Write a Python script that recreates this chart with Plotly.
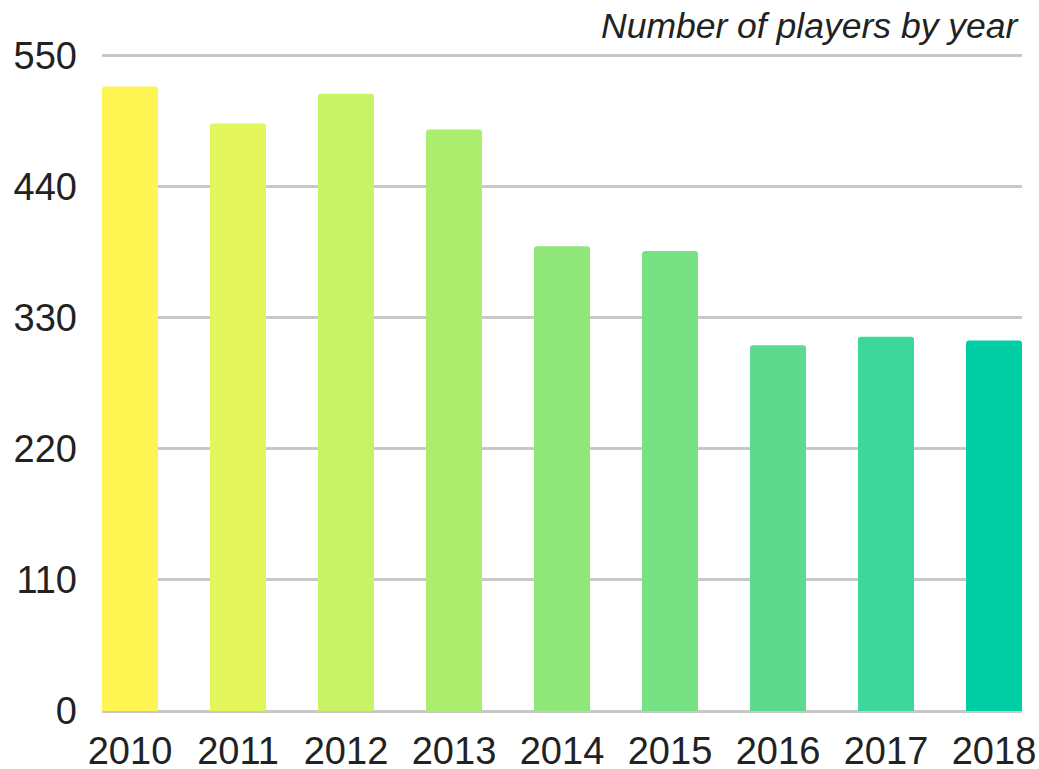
import plotly.graph_objects as go

years = ["2010", "2011", "2012", "2013", "2014", "2015", "2016", "2017", "2018"]
players = [524, 493, 518, 488, 390, 386, 307, 314, 311]
colors = ["#FEF552", "#E2F55B", "#C9F266", "#ADED6E", "#8FE77A", "#76E284",
          "#5DDA8E", "#3DD69B", "#00CFA5"]
y_ticks = [0, 110, 220, 330, 440, 550]
title_text = "Number of players by year"

fig = go.Figure(go.Bar(x=years, y=players, marker=dict(color=colors, line=dict(width=0))))

fig.update_layout(
    width=1039, height=769,
    margin=dict(l=102, r=17, t=52.4, b=58, autoexpand=False),
    paper_bgcolor="white", plot_bgcolor="white",
    bargap=0.4815,
    barcornerradius=3,
    showlegend=False,
    font=dict(family="Liberation Sans, Arial, sans-serif", color="#222222"),
    annotations=[dict(text=title_text, xref="paper", yref="paper", x=1.0, y=1.0,
                      xanchor="right", yanchor="bottom", yshift=3.5, xshift=-1, showarrow=False,
                      font=dict(size=35.5, color="#222222", style="italic",
                                family="Liberation Sans, Arial, sans-serif"))],
)
fig.update_xaxes(type="category", range=[-0.2593, 8.2593], showgrid=False, automargin=False,
                 showline=False, zeroline=False, ticks="", tickfont=dict(size=38, color="#222222"),
                 ticklabelstandoff=14)
fig.update_yaxes(range=[0, 553], tickvals=y_ticks, showgrid=True, gridcolor="#C8C8C8",
                 gridwidth=2.5, zeroline=True, zerolinecolor="#C8C8C8", zerolinewidth=2.5,
                 automargin=False, showline=False, ticks="",
                 tickfont=dict(size=38, color="#222222"), ticklabelstandoff=24)

fig.write_html("out.html", config={"displayModeBar": False},
               post_script="document.body.style.margin='0px';document.body.style.overflow='hidden';")
